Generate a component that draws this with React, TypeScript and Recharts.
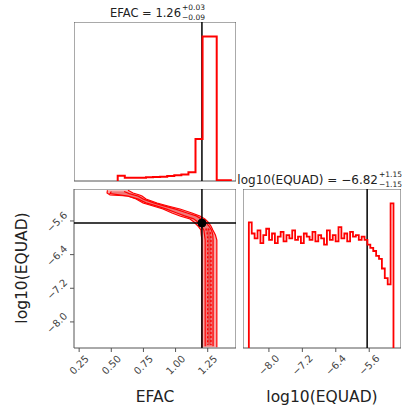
import React from 'react';
import {
  Area,
  ComposedChart,
  Line,
  LineChart,
  ReferenceArea,
  ReferenceDot,
  ReferenceLine,
  XAxis,
  YAxis,
} from 'recharts';

const FONT = 'DejaVu Sans, sans-serif';
const RED = '#ff0000';
const FRAME = '#555';

// axes
const efacDomain: [number, number] = [0.21, 1.47];
const equadDomain: [number, number] = [-8.62, -4.84];
const efacTicks = [0.25, 0.5, 0.75, 1.0, 1.25];
const equadTicks = [-8.0, -7.2, -6.4, -5.6];
const truthEfac = 1.205;
const truthEquad = -5.65;

// EFAC marginal histogram
const efacEdges = [
  0.55, 0.605, 0.66, 0.715, 0.77, 0.825, 0.88, 0.935, 0.99, 1.045, 1.1, 1.155, 1.21, 1.265,
  1.32, 1.375, 1.43,
];
const efacCounts = [
  0.037, 0.023, 0.023, 0.023, 0.026, 0.028, 0.03, 0.035, 0.04, 0.045, 0.06, 0.29, 1.0, 1.0,
  0.005, 0.005,
];

// log10(EQUAD) marginal histogram
const equadEdges = [
  -8.48, -8.411, -8.342, -8.272, -8.203, -8.134, -8.065, -7.996, -7.926, -7.857, -7.788,
  -7.719, -7.65, -7.58, -7.511, -7.442, -7.373, -7.304, -7.234, -7.165, -7.096, -7.027,
  -6.958, -6.888, -6.819, -6.75, -6.681, -6.612, -6.542, -6.473, -6.404, -6.335, -6.266,
  -6.196, -6.127, -6.058, -5.989, -5.92, -5.85, -5.781, -5.712, -5.643, -5.574, -5.504,
  -5.435, -5.366, -5.297, -5.228, -5.158, -5.089, -5.02,
];
const equadCounts = [
  0.79, 0.72, 0.69, 0.74, 0.66, 0.71, 0.75, 0.68, 0.72, 0.66, 0.7, 0.73, 0.67, 0.71, 0.69,
  0.74, 0.68, 0.7, 0.66, 0.72, 0.7, 0.68, 0.73, 0.67, 0.71, 0.69, 0.65, 0.74, 0.68, 0.71,
  0.67, 0.76, 0.69, 0.72, 0.67, 0.73, 0.7, 0.71, 0.68, 0.7, 0.68, 0.65, 0.63, 0.61, 0.58,
  0.56, 0.5, 0.44, 0.4, 0.91,
];

// 2D contours, sliced along log10(EQUAD): [EFAC low, EFAC high]
const outerQ = [
  -4.87, -4.935, -4.983, -5.006, -5.078, -5.173, -5.244, -5.315, -5.41, -5.482, -5.553,
  -5.624, -5.719, -5.815, -5.933, -6.052, -8.6,
];
const outerLo = [
  0.47, 0.467, 0.49, 0.63, 0.693, 0.747, 0.825, 0.902, 0.972, 1.034, 1.112, 1.143, 1.174,
  1.197, 1.2, 1.205, 1.205,
];
const outerHi = [
  0.63, 0.669, 0.72, 0.739, 0.77, 0.856, 0.941, 1.034, 1.127, 1.189, 1.228, 1.252, 1.275,
  1.29, 1.31, 1.321, 1.321,
];
const innerQ = [
  -4.9, -4.95, -5.01, -5.08, -5.17, -5.24, -5.32, -5.41, -5.48, -5.55, -5.62, -5.72, -5.82,
  -5.93, -6.05, -8.58,
];
const innerLo = [
  0.5, 0.49, 0.63, 0.71, 0.77, 0.85, 0.93, 1.01, 1.07, 1.14, 1.17, 1.2, 1.22, 1.225, 1.23,
  1.23,
];
const innerHi = [
  0.6, 0.64, 0.71, 0.75, 0.83, 0.91, 1.0, 1.09, 1.16, 1.2, 1.23, 1.26, 1.28, 1.29, 1.292,
  1.292,
];
const coreQ = [-5.78, -5.88, -6.0, -8.55];
const coreLo = [1.235, 1.245, 1.25, 1.25];
const coreHi = [1.255, 1.27, 1.275, 1.275];

function toStep(edges: number[], counts: number[]) {
  const last = edges[edges.length - 1];
  return [
    { x: edges[0], v: 0 },
    ...counts.map((c, i) => ({ x: edges[i], v: c })),
    { x: last, v: counts[counts.length - 1] },
    { x: last, v: 0 },
  ];
}

function toBand(q: number[], lo: number[], hi: number[]) {
  return q.map((y, i) => ({ y, r: [lo[i], hi[i]] }));
}

const efacStep = toStep(efacEdges, efacCounts);
const equadStep = toStep(equadEdges, equadCounts);
const outerBand = toBand(outerQ, outerLo, outerHi);
const innerBand = toBand(innerQ, innerLo, innerHi);
const coreBand = toBand(coreQ, coreLo, coreHi);

const minus = (s: string) => s.replace('-', '\u2212');

function RotTick(props: any) {
  const { x, y, payload, side, digits } = props;
  const cx = side === 'x' ? x : x - 11;
  const cy = side === 'x' ? y + 11 : y + 1;
  return (
    <text
      x={cx}
      y={cy}
      textAnchor="middle"
      dominantBaseline="central"
      transform={`rotate(-45 ${cx} ${cy})`}
      fontSize={10}
      fill="#444"
      fontFamily={FONT}
    >
      {minus(Number(payload.value).toFixed(digits))}
    </text>
  );
}

const panelW = 162;
const panelH = 159;

export default function App() {
  return (
    <div style={{ position: 'absolute', left: 0, top: 0, width: 406, height: 419, background: '#fff' }}>
      {/* EFAC histogram */}
      <div style={{ position: 'absolute', left: 74, top: 22 }}>
        <LineChart width={panelW} height={panelH + 5} data={efacStep} margin={{ top: 0, right: 0, bottom: 0, left: 0 }}>
          <XAxis
            type="number"
            dataKey="x"
            domain={efacDomain}
            ticks={efacTicks}
            allowDataOverflow
            tick={false}
            tickSize={4}
            height={5}
            axisLine={false}
            tickLine={{ stroke: FRAME }}
          />
          <YAxis hide type="number" domain={[0, 1.1]} allowDataOverflow />
          <ReferenceArea x1={efacDomain[0]} x2={efacDomain[1]} y1={0} y2={1.1} fill="none" stroke={FRAME} />
          <ReferenceLine x={truthEfac} stroke="#000" strokeWidth={1.5} />
          <Line type="stepAfter" dataKey="v" stroke={RED} strokeWidth={2} dot={false} isAnimationActive={false} />
        </LineChart>
      </div>

      {/* 2D posterior */}
      <div style={{ position: 'absolute', left: 0, top: 189 }}>
        <ComposedChart layout="vertical" width={236} height={panelH + 50} margin={{ top: 0, right: 0, bottom: 0, left: 0 }}>
          <XAxis
            type="number"
            domain={efacDomain}
            ticks={efacTicks}
            allowDataOverflow
            height={50}
            tickSize={4}
            axisLine={false}
            tickLine={{ stroke: FRAME }}
            tick={<RotTick side="x" digits={2} />}
          />
          <YAxis
            type="number"
            dataKey="y"
            reversed
            domain={equadDomain}
            ticks={equadTicks}
            allowDataOverflow
            width={74}
            tickSize={4}
            axisLine={false}
            tickLine={{ stroke: FRAME }}
            tick={<RotTick side="y" digits={1} />}
          />
          <Area data={outerBand} dataKey="r" type="linear" stroke={RED} strokeWidth={1.2} fill="#f6a8a8" fillOpacity={1} isAnimationActive={false} />
          <Area data={innerBand} dataKey="r" type="linear" stroke={RED} strokeWidth={1.2} fill="#f07a7a" fillOpacity={1} isAnimationActive={false} />
          <Area data={coreBand} dataKey="r" type="linear" stroke={RED} strokeWidth={1.4} strokeDasharray="2 2" fill="#ea5050" fillOpacity={1} isAnimationActive={false} />
          <ReferenceArea x1={efacDomain[0]} x2={efacDomain[1]} y1={equadDomain[0]} y2={equadDomain[1]} fill="none" stroke={FRAME} />
          <ReferenceLine x={truthEfac} stroke="#000" strokeWidth={1.5} />
          <ReferenceLine y={truthEquad} stroke="#000" strokeWidth={1.5} />
          <ReferenceDot x={truthEfac} y={truthEquad} r={4} fill="#000" stroke="#000" />
        </ComposedChart>
      </div>

      {/* log10(EQUAD) histogram */}
      <div style={{ position: 'absolute', left: 243, top: 189 }}>
        <LineChart width={158} height={panelH + 50} data={equadStep} margin={{ top: 0, right: 0, bottom: 0, left: 0 }}>
          <XAxis
            type="number"
            dataKey="x"
            domain={equadDomain}
            ticks={equadTicks}
            allowDataOverflow
            height={50}
            tickSize={4}
            axisLine={false}
            tickLine={{ stroke: FRAME }}
            tick={<RotTick side="x" digits={1} />}
          />
          <YAxis hide type="number" domain={[0, 1]} allowDataOverflow />
          <ReferenceArea x1={equadDomain[0]} x2={equadDomain[1]} y1={0} y2={1} fill="none" stroke={FRAME} />
          <ReferenceLine x={truthEquad} stroke="#000" strokeWidth={1.5} />
          <Line type="stepAfter" dataKey="v" stroke={RED} strokeWidth={1.8} dot={false} isAnimationActive={false} />
        </LineChart>
      </div>

      {/* titles and axis labels */}
      <svg width={406} height={419} style={{ position: 'absolute', left: 0, top: 0, pointerEvents: 'none' }}>
        <g fontFamily={FONT} fill="#222">
          <text x={181} y={17} fontSize={11.5} textAnchor="end">EFAC = 1.26</text>
          <text x={182} y={10} fontSize={7.5}>+0.03</text>
          <text x={182} y={20} fontSize={7.5}>{'\u22120.09'}</text>

          <text x={378} y={184} fontSize={12} textAnchor="end">{'log10(EQUAD) = \u22126.82'}</text>
          <text x={379} y={177} fontSize={7.5}>+1.15</text>
          <text x={379} y={187} fontSize={7.5}>{'\u22121.15'}</text>

          <text x={155} y={397} fontSize={15.5} textAnchor="middle" dominantBaseline="central">EFAC</text>
          <text x={322} y={397} fontSize={15.5} textAnchor="middle" dominantBaseline="central">log10(EQUAD)</text>
          <text x={22} y={268} fontSize={15.5} textAnchor="middle" dominantBaseline="central" transform="rotate(-90 22 268)">
            log10(EQUAD)
          </text>
        </g>
      </svg>
    </div>
  );
}
